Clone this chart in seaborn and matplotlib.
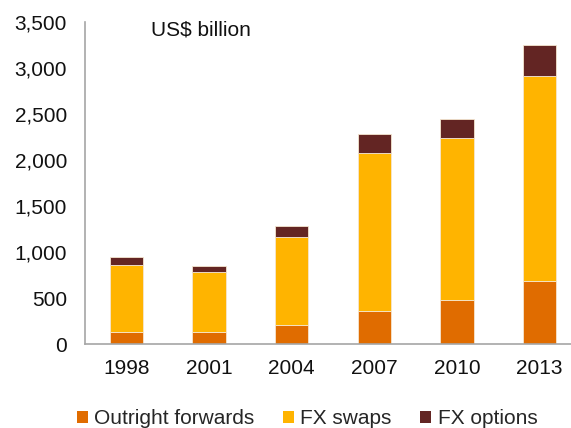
import matplotlib
matplotlib.use("Agg")
import matplotlib.pyplot as plt
import seaborn as sns
import numpy as np
import pandas as pd
from matplotlib.patches import Patch

years = ["1998", "2001", "2004", "2007", "2010", "2013"]
outright_forwards = [128, 130, 209, 362, 475, 680]
fx_swaps = [734, 656, 954, 1714, 1759, 2228]
fx_options = [87, 60, 119, 212, 207, 337]
series_names = ["Outright forwards", "FX swaps", "FX options"]
colors = ["#E06C00", "#FFB400", "#632523"]
yticks = [0, 500, 1000, 1500, 2000, 2500, 3000, 3500]

sns.set_theme(style="white")
plt.rcParams["font.family"] = ["Liberation Sans", "DejaVu Sans"]
FS = 15

fig = plt.figure(figsize=(5.71, 4.28), dpi=100)
ax = fig.add_axes([85 / 571, 84 / 428, 496 / 571, 322 / 428])

df = pd.DataFrame({"year": years, "fwd": outright_forwards,
                   "swp": fx_swaps, "opt": fx_options})
b1 = np.zeros(len(years))
b2 = np.array(outright_forwards, dtype=float)
b3 = b2 + np.array(fx_swaps, dtype=float)
for col, bottom, c in zip(["fwd", "swp", "opt"], [b1, b2, b3], colors):
    sns.barplot(data=df, x="year", y=col, bottom=bottom, color=c, width=0.4,
                edgecolor="#F5E6D0", linewidth=0.6, saturation=1, ax=ax)

ax.set_xlim(-0.5, 5.5)
ax.set_ylim(0, 3500)
ax.set_yticks(yticks)
ax.set_yticklabels([f"{v:,}" for v in yticks], fontsize=FS, color="#111111")
ax.set_xticks(range(len(years)))
ax.set_xticklabels(years, fontsize=FS, color="#111111")
ax.set_xticks(np.arange(-0.5, 6.0, 1.0), minor=True)
ax.tick_params(axis="x", which="major", length=0, pad=11)
ax.tick_params(axis="x", which="minor", length=7, width=1.2, color="#A6A6A6", direction="out")
ax.tick_params(axis="y", which="major", length=5, width=1.2, color="#A6A6A6", direction="out", pad=8)
ax.set_xlabel("")
ax.set_ylabel("")
for s in ["top", "right"]:
    ax.spines[s].set_visible(False)
for s in ["left", "bottom"]:
    ax.spines[s].set_color("#A6A6A6")
    ax.spines[s].set_linewidth(1.2)

fig.text(151 / 571, 1 - 30 / 428, "US$ billion", fontsize=FS, color="#111111",
         ha="left", va="center")

handles = [Patch(facecolor=c, edgecolor="none") for c in colors]
fig.legend(handles, series_names, loc="center", bbox_to_anchor=(307 / 571, 1 - 419 / 428),
           ncol=3, frameon=False, fontsize=FS, handlelength=0.55, handleheight=0.55,
           handletextpad=0.3, columnspacing=1.35, borderpad=0)

fig.savefig("out.png", dpi=100)
